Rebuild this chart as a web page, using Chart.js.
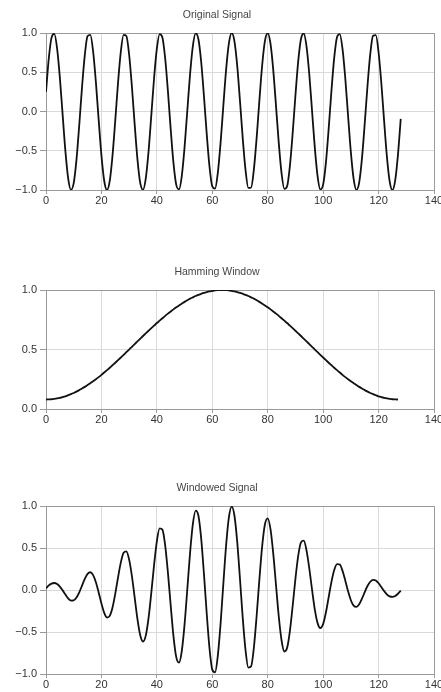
<!DOCTYPE html>
<html><head><meta charset="utf-8">
<script src="https://cdn.jsdelivr.net/npm/chart.js@4.4.1/dist/chart.umd.min.js"></script>
<style>
html,body{margin:0;padding:0;background:#fff;overflow:hidden;width:441px;height:692px;}
canvas{position:absolute;left:0;}
</style></head><body>
<canvas id="c1" width="441" height="210" style="top:0px;width:441px;height:210px"></canvas>
<canvas id="c2" width="441" height="172" style="top:257px;width:441px;height:172px"></canvas>
<canvas id="c3" width="441" height="219" style="top:473px;width:441px;height:219px"></canvas>
<script>
const chartTitles = ["Original Signal", "Hamming Window", "Windowed Signal"];

const originalSignal = [
0.250, 0.675, 0.942, 0.989, 0.805, 0.433, -0.040, -0.504, -0.851, -0.998,
-0.912, -0.613, -0.171, 0.311, 0.720, 0.962, 0.978, 0.766, 0.375, -0.103,
-0.558, -0.882, -1.000, -0.885, -0.562, -0.109, 0.370, 0.763, 0.977, 0.963,
0.724, 0.316, -0.166, -0.609, -0.910, -0.998, -0.853, -0.509, -0.046, 0.428,
0.802, 0.988, 0.944, 0.679, 0.256, -0.227, -0.658, -0.934, -0.992, -0.819,
-0.454, 0.017, 0.484, 0.838, 0.996, 0.922, 0.632, 0.194, -0.288, -0.704,
-0.955, -0.983, -0.781, -0.397, 0.080, 0.538, 0.871, 1.000, 0.895, 0.582,
0.132, -0.348, -0.747, -0.972, -0.969, -0.740, -0.338, 0.142, 0.590, 0.900,
0.999, 0.865, 0.529, 0.070, -0.406, -0.788, -0.985, -0.952, -0.696, -0.279,
0.204, 0.640, 0.925, 0.995, 0.832, 0.475, 0.007, -0.463, -0.825, -0.994,
-0.930, -0.650, -0.217, 0.266, 0.687, 0.948, 0.987, 0.795, 0.418, -0.056,
-0.518, -0.859, -0.999, -0.906, -0.601, -0.156, 0.326, 0.731, 0.966, 0.975,
0.756, 0.361, -0.119, -0.571, -0.889, -1.000, -0.877, -0.549, -0.093
];

const hammingWindow = [
0.080, 0.081, 0.082, 0.085, 0.089, 0.094, 0.100, 0.107, 0.116, 0.125,
0.135, 0.146, 0.159, 0.172, 0.186, 0.201, 0.217, 0.233, 0.250, 0.268,
0.287, 0.307, 0.327, 0.347, 0.368, 0.389, 0.411, 0.433, 0.455, 0.478,
0.500, 0.523, 0.546, 0.568, 0.591, 0.614, 0.636, 0.658, 0.680, 0.701,
0.723, 0.743, 0.763, 0.783, 0.802, 0.820, 0.838, 0.855, 0.871, 0.886,
0.901, 0.915, 0.928, 0.939, 0.950, 0.960, 0.969, 0.976, 0.983, 0.989,
0.993, 0.997, 0.999, 1.000,
1.000, 0.999, 0.997, 0.993, 0.989, 0.983, 0.976, 0.969, 0.960, 0.950,
0.939, 0.928, 0.915, 0.901, 0.886, 0.871, 0.855, 0.838, 0.820, 0.802,
0.783, 0.763, 0.743, 0.723, 0.701, 0.680, 0.658, 0.636, 0.614, 0.591,
0.568, 0.546, 0.523, 0.500, 0.478, 0.455, 0.433, 0.411, 0.389, 0.368,
0.347, 0.327, 0.307, 0.287, 0.268, 0.250, 0.233, 0.217, 0.201, 0.186,
0.172, 0.159, 0.146, 0.135, 0.125, 0.116, 0.107, 0.100, 0.094, 0.089,
0.085, 0.082, 0.081, 0.080
];

const windowedSignal = [
0.020, 0.055, 0.077, 0.084, 0.072, 0.041, -0.004, -0.054, -0.099, -0.125,
-0.123, -0.089, -0.027, 0.053, 0.134, 0.193, 0.212, 0.178, 0.094, -0.028,
-0.160, -0.271, -0.327, -0.307, -0.207, -0.042, 0.152, 0.330, 0.445, 0.460,
0.362, 0.165, -0.091, -0.346, -0.538, -0.613, -0.543, -0.335, -0.031, 0.300,
0.580, 0.734, 0.720, 0.532, 0.205, -0.186, -0.551, -0.799, -0.864, -0.726,
-0.409, 0.016, 0.449, 0.787, 0.946, 0.885, 0.612, 0.189, -0.283, -0.696,
-0.948, -0.980, -0.780, -0.397, 0.080, 0.537, 0.868, 0.993, 0.885, 0.572,
0.129, -0.337, -0.717, -0.923, -0.910, -0.687, -0.309, 0.128, 0.523, 0.784,
0.854, 0.725, 0.434, 0.056, -0.318, -0.601, -0.732, -0.688, -0.488, -0.190,
0.134, 0.407, 0.568, 0.588, 0.473, 0.259, 0.004, -0.232, -0.394, -0.452,
-0.403, -0.267, -0.084, 0.098, 0.238, 0.310, 0.303, 0.228, 0.112, -0.014,
-0.121, -0.186, -0.201, -0.169, -0.103, -0.025, 0.048, 0.099, 0.121, 0.113,
0.081, 0.036, -0.011, -0.051, -0.076, -0.082, -0.071, -0.044, -0.007
];

const xTickValues = [0, 20, 40, 60, 80, 100, 120, 140];
const yTicksSignal = [-1, -0.5, 0, 0.5, 1];
const yTicksWindow = [0, 0.5, 1];

const FONT = "'Liberation Sans', Arial, Helvetica, sans-serif";
const EDGE = '#9a9a9a';
const GRID = '#dadada';

function fmtY(v) {
  return v < 0 ? '\u2212' + Math.abs(v).toFixed(1) : Number(v).toFixed(1);
}

function makeChart(id, title, values, yTicks, xAxisH) {
  const yMin = yTicks[0], yMax = yTicks[yTicks.length - 1];
  const xMin = xTickValues[0], xMax = xTickValues[xTickValues.length - 1];
  return new Chart(document.getElementById(id), {
    type: 'line',
    data: {
      datasets: [{
        data: values.map((v, i) => ({ x: i, y: v })),
        borderColor: '#111',
        borderWidth: 1.8,
        pointRadius: 0,
        cubicInterpolationMode: 'monotone',
        fill: false
      }]
    },
    options: {
      responsive: false,
      animation: false,
      events: [],
      layout: { padding: { left: 0, right: 7, top: 0, bottom: 0 } },
      plugins: {
        legend: { display: false },
        tooltip: { enabled: false },
        title: {
          display: true, text: title, color: '#454545',
          font: { family: FONT, size: 10.5, weight: 'normal' },
          padding: { top: 8.5, bottom: 12 }
        }
      },
      scales: {
        x: {
          type: 'linear', min: xMin, max: xMax,
          afterBuildTicks: s => { s.ticks = xTickValues.map(v => ({ value: v })); },
          afterFit: s => { s.height = xAxisH; s.paddingLeft = 0; s.paddingRight = 0; },
          grid: {
            color: c => (c.tick && (c.tick.value === xMin || c.tick.value === xMax)) ? EDGE : GRID,
            tickColor: EDGE, tickLength: 4, lineWidth: 1
          },
          border: { color: EDGE },
          ticks: { color: '#333', font: { family: FONT, size: 11 }, padding: 0, maxRotation: 0, autoSkip: false }
        },
        y: {
          type: 'linear', min: yMin, max: yMax,
          afterBuildTicks: s => { s.ticks = yTicks.map(v => ({ value: v })); },
          afterFit: s => { s.width = 46; },
          grid: {
            color: c => (c.tick && (c.tick.value === yMin || c.tick.value === yMax)) ? EDGE : GRID,
            tickColor: EDGE, tickLength: 6, lineWidth: 1
          },
          border: { color: EDGE },
          ticks: { color: '#333', font: { family: FONT, size: 11 }, padding: 3, callback: fmtY, autoSkip: false }
        }
      }
    }
  });
}

makeChart('c1', chartTitles[0], originalSignal, yTicksSignal, 20);
makeChart('c2', chartTitles[1], hammingWindow, yTicksWindow, 20);
makeChart('c3', chartTitles[2], windowedSignal, yTicksSignal, 18);
</script>
</body></html>
